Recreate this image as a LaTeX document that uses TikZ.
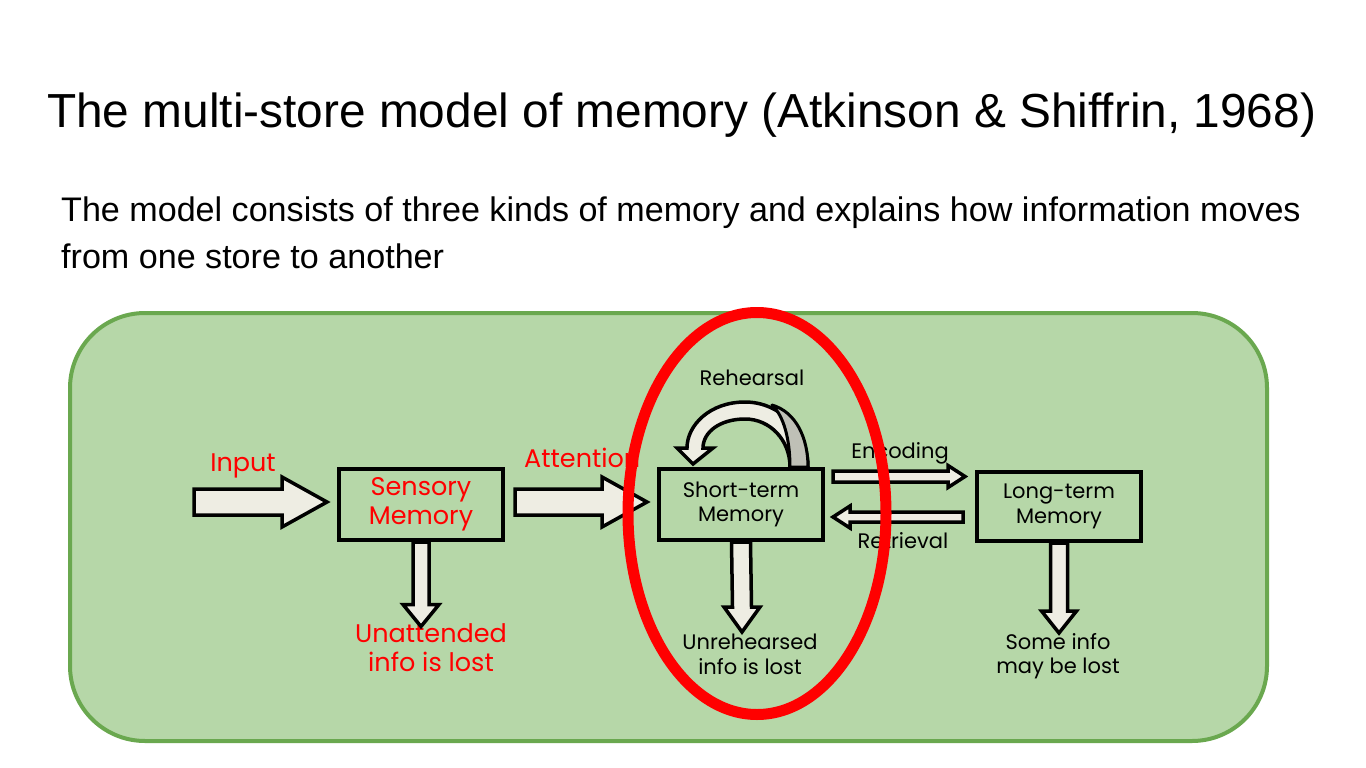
\documentclass[tikz,border=0pt]{standalone}
\usepackage{fontspec}
\setmainfont{Liberation Sans}
\newfontfamily\cf{Poppins}
\usetikzlibrary{calc}
\definecolor{bggreen}{HTML}{B6D7A8}
\definecolor{bdgreen}{HTML}{6AA84F}
\definecolor{cream}{HTML}{EEEDE3}
\definecolor{grayback}{HTML}{BFC0B6}
% horizontal block arrow: #1 start, #2 tip, #3 body half, #4 head half, #5 signed head length
\newcommand{\hblock}[5]{%
  \draw[barrow] ($(#1)+(0,#3)$) -- ($(#2)+({-(#5)},#3)$) -- ($(#2)+({-(#5)},#4)$) -- (#2)
    -- ($(#2)+({-(#5)},{-(#4)})$) -- ($(#2)+({-(#5)},{-(#3)})$) -- ($(#1)+(0,{-(#3)})$) -- cycle;}
% vertical (downward) block arrow
\newcommand{\vblock}[5]{%
  \draw[barrow] ($(#1)+(#3,0)$) -- ($(#2)+(#3,{-(#5)})$) -- ($(#2)+(#4,{-(#5)})$) -- (#2)
    -- ($(#2)+({-(#4)},{-(#5)})$) -- ($(#2)+({-(#3)},{-(#5)})$) -- ($(#1)+({-(#3)},0)$) -- cycle;}
\begin{document}
\begin{tikzpicture}[x=1pt,y=-1pt,
  store/.style={draw=black,line width=4pt,minimum width=164pt,minimum height=71pt,inner sep=0pt,align=center},
  barrow/.style={draw=black,line width=3.5pt,fill=cream,line join=miter},
  redlbl/.style={text=red,font=\cf\fontsize{25.5}{29}\selectfont,align=center,inner sep=0pt},
  blklbl/.style={text=black,font=\cf\fontsize{21}{24.5}\selectfont,align=center,inner sep=0pt},
  title/.style={font=\fontsize{47.8}{56}\selectfont,anchor=base west,inner sep=0pt},
  sub/.style={font=\fontsize{34.1}{47}\selectfont,anchor=base west,inner sep=0pt,align=left}]
\useasboundingbox[fill=white] (0,0) rectangle (1366,768);

% texts
\node[title] (ttl) at (47,128) {The multi-store model of memory (Atkinson \& Shiffrin, 1968)};
\node[sub] (subtxt) at (61,221) {The model consists of three kinds of memory and explains how information moves};
\node[sub] (subtxt2) at (61,268) {from one store to another};

% green panel
\draw[bdgreen,fill=bggreen,line width=4pt,rounded corners=75pt] (70,313) rectangle (1267,741);

% boxes
\node[store,redlbl] (sens) at (421,504.5) {Sensory\\Memory};
\node[store,blklbl] (stm) at (741,504.5) {Short-term\\Memory};
\node[store,blklbl,minimum height=69pt] (ltm) at (1059,506.5) {Long-term\\Memory};

% labels
\node[redlbl,anchor=base] (inp) at (243,471) {Input};
\node[redlbl,anchor=base west] (att) at (524,467) {Attention};
\node[redlbl,anchor=north] (unatt) at (431,623) {Unattended\\info is lost};
\node[blklbl,anchor=base] (reh) at (752,385) {Rehearsal};
\node[blklbl,anchor=base] (enc) at (900,458) {Encoding};
\node[blklbl,anchor=base] (ret) at (903,548) {Retrieval};
\node[blklbl,anchor=north] (unreh) at (750,634) {Unrehearsed\\info is lost};
\node[blklbl,anchor=north] (some) at (1058,633) {Some info\\may be lost};

% coordinates for block arrows
\coordinate (in0) at (194,502);
\coordinate (in1) at ($(sens.west)+(-10,-2.5)$);
\coordinate (at0) at ($(sens.east)+(10,-2.5)$);
\coordinate (at1) at ($(stm.west)+(-10,-2.5)$);
\coordinate (en0) at ($(stm.east)+(8,-28)$);
\coordinate (en1) at ($(ltm.west)+(-10,-30)$);
\coordinate (re0) at ($(ltm.west)+(-12,10.5)$);
\coordinate (re1) at ($(stm.east)+(8,12.5)$);
\coordinate (sd1) at ($(sens.south)+(0,84.5)$);
\coordinate (td1) at ($(stm.south)+(1,90)$);
\coordinate (ld1) at ($(ltm.south)+(0,90)$);

\hblock{in0}{in1}{13}{25}{45}
\hblock{at0}{at1}{13}{25}{45}
\hblock{en0}{en1}{5.5}{11}{17}
\hblock{re0}{re1}{5}{11}{-17}
\vblock{sens.south}{sd1}{8}{18}{22}
\vblock{stm.south}{td1}{9.5}{18}{25}
\vblock{ltm.south}{ld1}{8.5}{17.5}{22}

% rehearsal loop arrow
\coordinate (rf1) at ($(stm.north)+(67,0)$);
\coordinate (rf0) at ($(stm.north)+(49,0)$);
\draw[barrow]
  (rf1) .. controls (808,431) and (780,402) .. (745,402)
        .. controls (710,402) and (687,425) .. (687,448)
  -- (677,448) -- (693,464) -- (713,448) -- (703,448)
        .. controls (703,432) and (720,419) .. (745,419)
        .. controls (770,419) and (790,440) .. (rf0) -- cycle;
\draw[black,line width=3pt,fill=grayback,line join=round]
  (rf1) .. controls (808,438) and (796,412) .. (772,405)
        .. controls (784,416) and (790,440) .. (rf0) -- cycle;

% red ellipse
\draw[red,line width=11pt] (757,513.5) ellipse [x radius=129pt,y radius=201pt];
\end{tikzpicture}
\end{document}
